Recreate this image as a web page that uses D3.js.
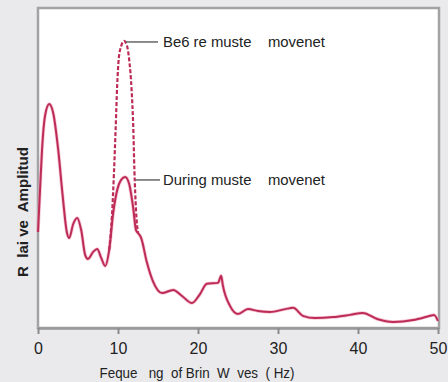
<!DOCTYPE html>
<html><head><meta charset="utf-8">
<script src="https://cdn.jsdelivr.net/npm/d3@7"></script>
<style>
html,body{margin:0;padding:0;background:#eaeaed;}
svg{display:block;}
text{font-family:"Liberation Sans Narrow","Liberation Sans",Arial,sans-serif;fill:#222;white-space:pre;}
</style></head>
<body>
<svg id="c" width="448" height="382"></svg>
<script>
// Frequency (Hz) and relative amplitude, "During muscle movement" (solid)
const duringFreq = [0,0.25,0.5,0.9,1.4,1.9,2.5,3.1,3.6,3.9,4.4,4.9,5.4,5.9,6.25,6.9,7.4,7.9,8.4,8.9,9.4,9.9,10.4,10.9,11.4,11.9,12.25,12.5,12.9,13.6,14.4,15.5,16.9,18,19.25,20.25,21.1,22.5,22.9,23.1,24,25,26.25,27.5,29,30.9,31.9,33.1,34.6,36.9,39,40.6,42.4,44.4,46.9,49,49.5,50];
const duringAmp  = [30,43,55.6,66.6,70,67.2,56.3,40.9,30,28.1,32.5,34.4,30.6,22.8,21.6,23.8,24.7,21.9,19.4,24.4,35.9,43.1,46.3,47.2,45,37.5,30.6,29.7,28.1,20.6,14.4,10.9,11.9,10,7.8,10.6,13.8,14.1,16.3,13.4,6.9,4.4,5.9,5.3,5,5.9,6.3,3.8,3.1,3.4,4.1,4.7,2.8,1.9,2.5,3.8,4.1,2.2];
// "Before muscle movement" (dashed) — differs only around the alpha peak
const beforeFreq = [8.9,9.25,9.5,9.7,9.9,10.1,10.4,10.75,11.1,11.4,11.7,11.9,12.05,12.25,12.5];
const beforeAmp  = [24.4,35.3,48.8,61.9,75.9,84.4,88.1,89.7,88.4,83.8,74.4,63.4,49.4,36.9,29.7];
const xTicks = [0,10,20,30,40,50];
const labelBefore = "Be6 re muste    movenet";
const labelDuring = "During muste    movenet";
const xTitle = "Feque   ng  of Brin  W  ves  ( Hz)";
const yTitle = "R  lai ve  Amplitud";

const svg = d3.select("#c");
const L=38, R=439, T=8, B=328;
const x = d3.scaleLinear().domain([0,50]).range([L,R-1]);
const y = d3.scaleLinear().domain([0,100]).range([B,T]);

// panel
svg.append("rect").attr("x",L).attr("y",T).attr("width",R-L).attr("height",B-T)
  .attr("fill","#fff").attr("stroke","#a3a3a6").attr("stroke-width",2.5);

const line = d3.line().x(d=>x(d[0])).y(d=>y(d[1])).curve(d3.curveMonotoneX);
const col = "#bd2c57";

const during = duringFreq.map((f,i)=>[f,duringAmp[i]]);
const before = beforeFreq.map((f,i)=>[f,beforeAmp[i]]);

// halo
svg.append("path").datum(during).attr("d",line).attr("fill","none")
  .attr("stroke","#f0a0b8").attr("stroke-width",3.5).attr("opacity",0.6);
svg.append("path").datum(during).attr("d",line).attr("fill","none")
  .attr("stroke",col).attr("stroke-width",2);
svg.append("path").datum(before).attr("d",line).attr("fill","none")
  .attr("stroke",col).attr("stroke-width",2.2).attr("stroke-dasharray","4,2");

// x axis
const ax = svg.append("g").attr("transform",`translate(0,${B})`)
  .call(d3.axisBottom(x).tickValues(xTicks).tickFormat(d3.format("d")).tickSize(6).tickSizeOuter(0));
ax.select(".domain").attr("stroke","#9a9a9d").attr("stroke-width",2.5);
ax.selectAll(".tick line").attr("stroke","#8a8a8d").attr("stroke-width",2);
ax.selectAll(".tick text").attr("font-size",16).attr("dy","1.05em")
  .style("font-family","'Liberation Sans',Arial,sans-serif").attr("fill","#222");

// annotations
const pb = before[7], pd = during[23];
svg.append("line").attr("x1",x(pb[0])+2).attr("x2",158).attr("y1",y(pb[1])+1).attr("y2",y(pb[1])+1)
  .attr("stroke","#666").attr("stroke-width",1.5);
svg.append("text").attr("x",163).attr("y",y(pb[1])+6).attr("font-size",14)
  .attr("textLength",162).attr("lengthAdjust","spacingAndGlyphs").text(labelBefore);
svg.append("line").attr("x1",x(12.2)).attr("x2",160).attr("y1",y(pd[1])+3).attr("y2",y(pd[1])+3)
  .attr("stroke","#666").attr("stroke-width",1.5);
svg.append("text").attr("x",163).attr("y",y(pd[1])+8).attr("font-size",14)
  .attr("textLength",162).attr("lengthAdjust","spacingAndGlyphs").text(labelDuring);

// axis titles
svg.append("text").attr("x",197).attr("y",378).attr("text-anchor","middle").attr("font-size",15)
  .attr("textLength",195).attr("lengthAdjust","spacingAndGlyphs").text(xTitle);
svg.append("text").attr("transform","translate(28,212) rotate(-90)").attr("text-anchor","middle")
  .attr("font-size",14).attr("font-weight","bold").attr("textLength",130).attr("lengthAdjust","spacingAndGlyphs").text(yTitle);
</script>
</body></html>
